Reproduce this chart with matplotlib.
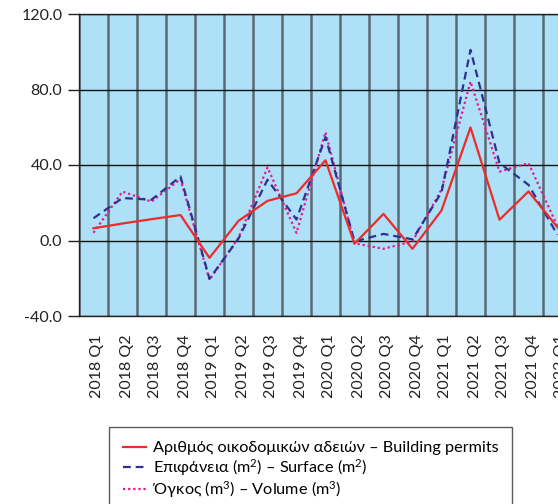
import matplotlib
matplotlib.use("Agg")
import matplotlib.pyplot as plt
from matplotlib.ticker import FixedLocator, NullFormatter
from matplotlib.transforms import ScaledTranslation

plt.rcParams['font.family'] = ['Lato', 'DejaVu Sans']
plt.rcParams['mathtext.fontset'] = 'custom'
plt.rcParams['mathtext.rm'] = 'Lato'
plt.rcParams['mathtext.it'] = 'Lato'
plt.rcParams['mathtext.default'] = 'regular'

categories = ["2018 Q1", "2018 Q2", "2018 Q3", "2018 Q4",
              "2019 Q1", "2019 Q2", "2019 Q3", "2019 Q4",
              "2020 Q1", "2020 Q2", "2020 Q3", "2020 Q4",
              "2021 Q1", "2021 Q2", "2021 Q3", "2021 Q4",
              "2022 Q1"]
permits = [6.5, 9.0, 11.3, 13.5, -9.2, 10.4, 21.0, 25.0, 42.5, -1.7, 14.1, -4.4,
           15.9, 59.9, 11.0, 26.0, 7.0]
surface = [11.8, 22.5, 21.6, 33.9, -20.3, 1.0, 32.2, 11.1, 54.8, -0.5, 3.5, 0.6,
           25.5, 101.0, 41.0, 29.5, 3.0]
volume = [4.1, 25.9, 20.6, 32.5, -20.8, 1.5, 38.7, 4.0, 57.4, -1.5, -4.4, -0.5,
          27.0, 84.2, 36.5, 41.0, 7.5]
yticks = [-40.0, 0.0, 40.0, 80.0, 120.0]
labels = ["Αριθμός οικοδομικών αδειών – Building permits",
          "Επιφάνεια (m$^{2}$) – Surface (m$^{2}$)",
          "Όγκος (m$^{3}$) – Volume (m$^{3}$)"]

W, H = 558, 504
fig = plt.figure(figsize=(W / 100, H / 100), dpi=100)
ax = fig.add_axes([79 / W, 1 - 316 / H, 493 / W, 302 / H])
ax.set_facecolor("#AEE0F8")

x = list(range(len(categories)))
l1, = ax.plot(x, permits, color="#EE2B2B", lw=1.6, ls="-", zorder=5)
l2, = ax.plot(x, surface, color="#2E3192", lw=1.6, ls=(0, (3.5, 2.2)), zorder=4)
l3, = ax.plot(x, volume, color="#E8188C", lw=1.6, ls=(0, (1, 1.3)), zorder=3)

ax.set_xlim(-0.5, len(categories) - 0.5)
ax.set_ylim(-40, 120)
ax.set_yticks(yticks)
ax.set_yticklabels([f"{v:.1f}" for v in yticks], fontsize=11.5, color="#222222")
ax.tick_params(axis='y', length=8, width=1, color="#222222", pad=4)

ax.set_xticks(x)
ax.set_xticklabels(categories, rotation=90, fontsize=11.5, color="#222222")
ax.tick_params(axis='x', length=0, pad=13)
offset = ScaledTranslation(4 / 100, 0, fig.dpi_scale_trans)
for lab in ax.get_xticklabels():
    lab.set_transform(lab.get_transform() + offset)
ax.xaxis.set_minor_locator(FixedLocator([i - 0.5 for i in range(len(categories) + 1)]))
ax.xaxis.set_minor_formatter(NullFormatter())
ax.tick_params(axis='x', which='minor', length=0)

ax.grid(True, axis='y', which='major', color="#111111", lw=1.0, zorder=1)
ax.grid(True, axis='x', which='minor', color="#5a6a72", lw=1.8, zorder=1)
ax.grid(False, axis='x', which='major')
ax.set_axisbelow(True)

for s in ax.spines.values():
    s.set_color("#222222")
    s.set_linewidth(1.0)

leg = fig.legend([l1, l2, l3], labels, loc="upper left",
                 bbox_to_anchor=(109 / W, 1 - 427 / H), borderaxespad=0,
                 fontsize=11.7, frameon=True, fancybox=False, edgecolor="#333333",
                 handlelength=1.45, handletextpad=0.4, labelspacing=0.1,
                 borderpad=0.85)
leg.get_frame().set_linewidth(1.0)

fig.savefig("out.png", dpi=100)
